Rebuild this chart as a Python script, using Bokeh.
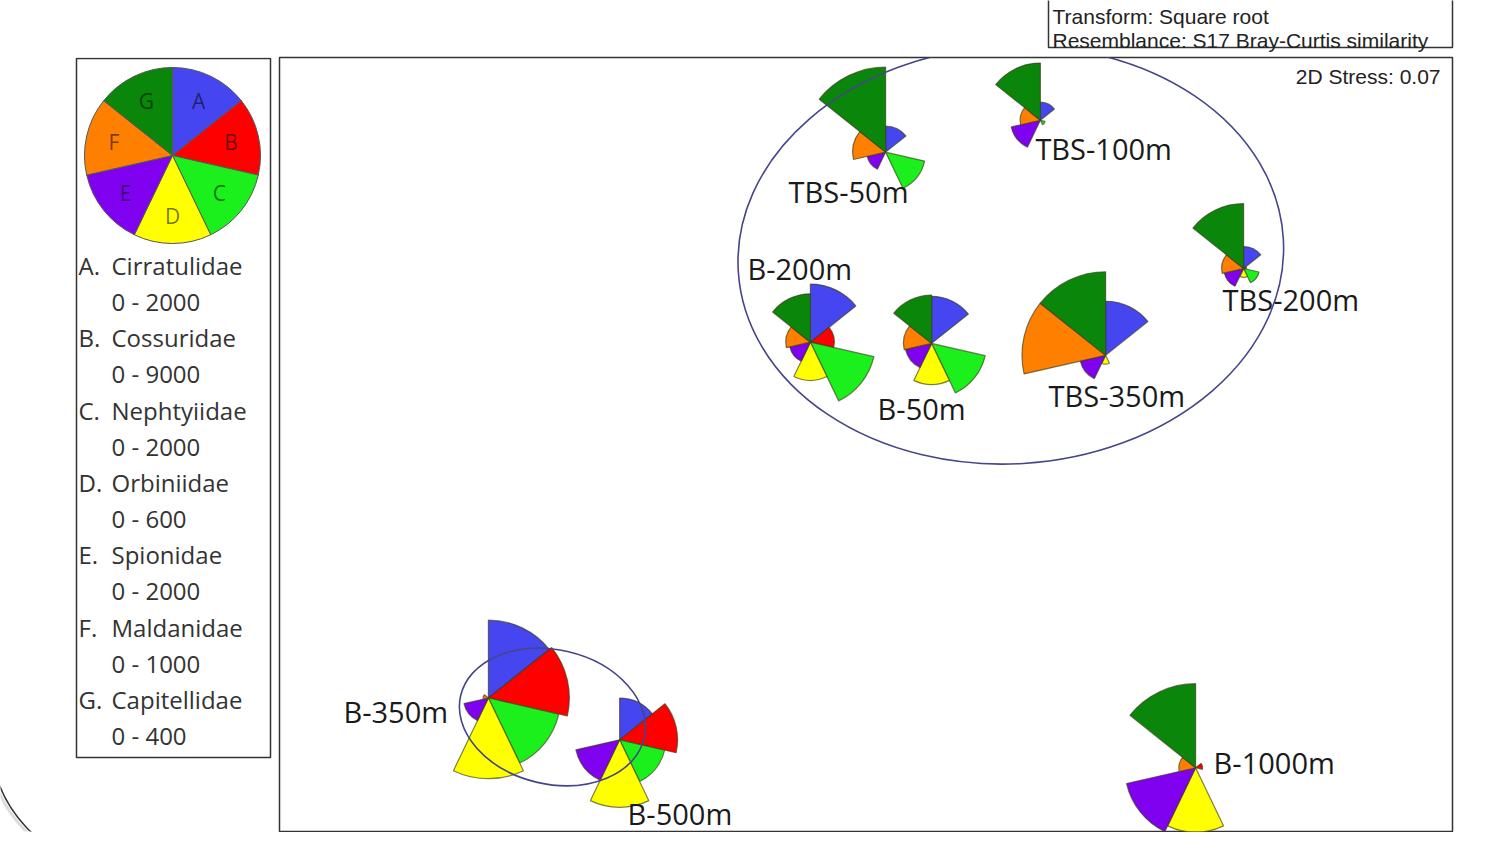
import numpy as np
from bokeh.plotting import figure
from bokeh.layouts import column, row
from bokeh.models import Range1d, ColumnDataSource
from bokeh.embed import file_html
from bokeh.resources import INLINE
from bokeh.core.properties import value

# ---------------- data ----------------
species_letters = ["A", "B", "C", "D", "E", "F", "G"]
species_names = ["Cirratulidae", "Cossuridae", "Nephtyiidae", "Orbiniidae",
                 "Spionidae", "Maldanidae", "Capitellidae"]
species_max = [2000, 9000, 2000, 600, 2000, 1000, 400]

stations = ["TBS-50m", "TBS-100m", "TBS-200m", "B-200m", "B-50m",
            "TBS-350m", "B-350m", "B-500m", "B-1000m"]
mds_x = [0.049, 0.436, 0.944, -0.139, 0.164, 0.599, -0.944, -0.616, 0.824]
mds_y = [0.740, 0.820, 0.448, 0.263, 0.260, 0.230, -0.630, -0.735, -0.805]

cirratulidae = [590, 410, 500, 1320, 1070, 1230, 1770, 950, 0]
cossuridae   = [0, 0, 300, 2450, 0, 0, 8280, 5930, 720]
nephtyiidae  = [910, 110, 360, 1480, 1250, 0, 1640, 1050, 0]
orbiniidae   = [0, 0, 60, 260, 280, 60, 550, 460, 440]
spionidae    = [430, 680, 450, 480, 610, 590, 570, 1020, 1610]
maldanidae   = [375, 230, 250, 280, 320, 950, 60, 0, 190]
capitellidae = [386, 260, 295, 220, 220, 380, 0, 0, 382]

# similarity contours (ellipses in MDS space)
cluster_x = [0.362, -0.784]
cluster_y = [0.482, -0.6775]
cluster_w = [1.3650, 0.471]
cluster_h = [1.0485, 0.337]
cluster_angle = [0.06, -0.227]

stress = 0.07
transform = "Square root"
resemblance = "S17 Bray-Curtis similarity"

# ---------------- styles / layout ----------------
colors = ["#4646f0", "#ff0000", "#1cf01c", "#ffff00", "#8000f0", "#ff8000", "#0a870a"]
label_dx = [-97, -5, -21, -63, -54, -57, -145, 8, 18]
label_dy = [39, 28, 31, -74, 65, 40, 13, 74, -5]
R_FULL = 88  # pixel radius of a segment at the top of its range
PH = 848     # helper: layout figures use y = PH - pixel row

seg = 2 * np.pi / 7
seg_start = [np.pi / 2 - (i + 1) * seg for i in range(7)]
seg_end = [np.pi / 2 - i * seg for i in range(7)]


def blank(width, height, xr, yr, **kw):
    f = figure(width=width, height=height, x_range=xr, y_range=yr,
               output_backend="svg", toolbar_location=None, min_border=0,
               x_axis_location=None, y_axis_location=None,
               background_fill_color="white", border_fill_color="white", **kw)
    f.grid.grid_line_color = None
    return f


# ---------------- top strip (transform box), rows 0..56 ----------------
top = blank(1485, 56, Range1d(0, 1485), Range1d(PH - 56, PH), outline_line_color=None)
top.quad(left=[1048], right=[1452], top=[PH + 10], bottom=[PH - 47],
         fill_color=None, line_color="#333333", line_width=1.5)
top.text(x=[1052, 1052], y=[PH - 16, PH - 40],
         text=["Transform: " + transform, "Resemblance: " + resemblance],
         text_font=value("Liberation Sans"), text_font_size="21px",
         text_color="#222222", text_baseline="alphabetic", text_align="left")

# ---------------- left legend (frame rows 57..831, aligned with main frame) ----------------
lf = blank(278, 776, Range1d(0, 278), Range1d(PH - 831, PH - 57), outline_line_color=None,
           min_border_top=1, min_border_bottom=1)
lf.quad(left=[76], right=[270], top=[PH - 58], bottom=[PH - 757],
        fill_color=None, line_color="#333333", line_width=1.5)
pie_cx, pie_cy = 172, PH - 155
lf.wedge(x=[pie_cx] * 7, y=[pie_cy] * 7, radius=R_FULL, radius_units="screen",
         start_angle=seg_start, end_angle=seg_end, fill_color=colors,
         line_color="#555555", line_width=1)
mid = [(a + b) / 2 for a, b in zip(seg_start, seg_end)]
lf.text(x=[pie_cx + 60 * np.cos(m) for m in mid], y=[pie_cy + 60 * np.sin(m) for m in mid],
        text=species_letters, text_font=value("Open Sans"), text_font_size="21px",
        text_color="black", text_alpha=0.55, text_align="center", text_baseline="middle")
row_y = [PH - (265 + 72.3 * i) for i in range(7)]
lf.text(x=[78] * 7, y=row_y, text=[l + "." for l in species_letters],
        text_font=value("Open Sans"), text_font_size="24px", text_color="#333333",
        text_align="left", text_baseline="middle")
lf.text(x=[111] * 7, y=row_y, text=species_names,
        text_font=value("Open Sans"), text_font_size="24px", text_color="#333333",
        text_align="left", text_baseline="middle")
lf.text(x=[111] * 7, y=[yy - 36 for yy in row_y], text=["0 - %d" % m for m in species_max],
        text_font=value("Open Sans"), text_font_size="24px", text_color="#333333",
        text_align="left", text_baseline="middle")
# decorative slide corner
lf.arc(x=[118], y=[PH - 738], radius=131, radius_units="screen",
       start_angle=np.deg2rad(180), end_angle=np.deg2rad(268),
       line_color="#bbbbbb", line_width=3, line_alpha=0.5)
lf.arc(x=[118], y=[PH - 738], radius=128, radius_units="screen",
       start_angle=np.deg2rad(180), end_angle=np.deg2rad(268),
       line_color="#333333", line_width=1.5)

# ---------------- main MDS plot (frame rows 57..831, cols 279..1452) ----------------
p = blank(1207, 776, Range1d(-1.46625, 1.46625), Range1d(-0.965, 0.9775),
          min_border_left=1, min_border_right=33, min_border_top=1, min_border_bottom=1,
          outline_line_color="#333333", outline_line_width=1.5)

values = [cirratulidae, cossuridae, nephtyiidae, orbiniidae, spionidae, maldanidae, capitellidae]
wx, wy, wr, ws, we, wc = [], [], [], [], [], []
for s in range(len(stations)):
    for i in range(7):
        v = values[i][s]
        if v > 0:
            wx.append(mds_x[s]); wy.append(mds_y[s])
            wr.append(R_FULL * v / species_max[i])
            ws.append(seg_start[i]); we.append(seg_end[i]); wc.append(colors[i])
src = ColumnDataSource(dict(x=wx, y=wy, r=wr, s=ws, e=we, c=wc))
p.wedge(x="x", y="y", radius="r", radius_units="screen", start_angle="s", end_angle="e",
        fill_color="c", line_color="#3a3a1a", line_alpha=0.65, line_width=1.2, source=src)

lsrc = ColumnDataSource(dict(x=mds_x, y=mds_y, t=stations, dx=label_dx, dy=label_dy))
p.text(x="x", y="y", text="t", x_offset="dx", y_offset="dy", source=lsrc,
       text_font=value("Open Sans"), text_font_size="29px", text_color="#1a1a1a",
       text_align="left", text_baseline="middle")

p.ellipse(x=cluster_x, y=cluster_y, width=cluster_w, height=cluster_h, angle=cluster_angle,
          fill_color=None, line_color="#45458a", line_width=1.6)

p.text(x=[p.x_range.end], y=[p.y_range.end], x_offset=-12, y_offset=19,
       text=["2D Stress: %.2f" % stress], text_font=value("Liberation Sans"),
       text_font_size="21px", text_color="#222222", text_align="right", text_baseline="middle")

layout = column(top, row(lf, p, spacing=0), spacing=0)
open("out.html", "w").write(file_html(layout, INLINE))
